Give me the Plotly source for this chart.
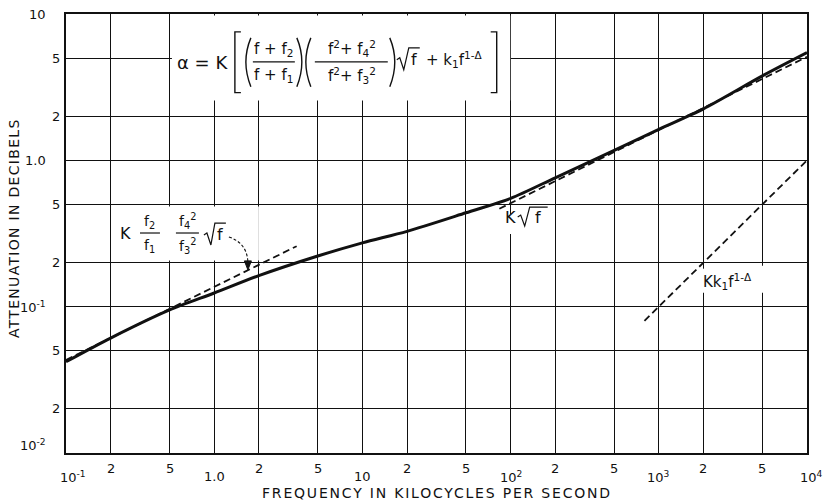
import math
import plotly.graph_objects as go

# ---------------- data ----------------
freq_curve = [0.1, 0.2, 0.5, 1, 2, 5, 10, 20, 50, 100, 200, 500, 1000, 2000, 5000, 10000]
atten_curve = [0.042, 0.061, 0.095, 0.124, 0.163, 0.222, 0.273, 0.327, 0.438, 0.55,
               0.76, 1.17, 1.63, 2.25, 3.78, 5.45]

freq_low = [0.1, 3.6]          # K f2/f1 f4^2/f3^2 sqrt(f)
atten_low = [0.0432, 0.259]
freq_high = [84, 10000]        # K sqrt(f)
atten_high = [0.467, 5.1]
freq_loss = [800, 10000]       # K k1 f^(1-Δ)
atten_loss = [0.08, 1.0]

x_grid = [0.1, 0.2, 0.5, 1, 2, 5, 10, 20, 50, 100, 200, 500, 1000, 2000, 5000, 10000]
y_grid = [0.01, 0.02, 0.05, 0.1, 0.2, 0.5, 1, 2, 5, 10]

x_minor_vals = [0.2, 0.5, 2, 5, 20, 50, 200, 500, 2000, 5000]
x_minor_text = ["2", "5", "2", "5", "2", "5", "2", "5", "2", "5"]
x_major_vals = [0.1, 1, 10, 100, 1000, 10000]
x_major_text = ["10<sup>-1</sup>", "1.0", "10", "10<sup>2</sup>", "10<sup>3</sup>", "10<sup>4</sup>"]
y_minor_vals = [0.02, 0.05, 0.2, 0.5, 2, 5]
y_minor_text = ["2", "5", "2", "5", "2", "5"]
y_major_vals = [0.01, 0.1, 1, 10]
y_major_text = ["10<sup>-2</sup>", "10<sup>-1</sup>", "1.0", "10"]

FONT = "DejaVu Sans"
INK = "#111"

# plot-area geometry (pixels)
L, R, T, B = 66, 807.5, 12, 453
W, H = 827, 504


def px(x, y):
    return (x - L) / (R - L), (B - y) / (B - T)


def path(points, close=False):
    s = ""
    for i, p in enumerate(points):
        a, b = px(*p)
        s += ("M" if i == 0 else "L") + f"{a:.5f},{b:.5f} "
    return s + ("Z" if close else "")


def qcurve(p0, c, p1):
    a0, b0 = px(*p0)
    ac, bc = px(*c)
    a1, b1 = px(*p1)
    return f"M{a0:.5f},{b0:.5f} Q{ac:.5f},{bc:.5f} {a1:.5f},{b1:.5f}"


fig = go.Figure()

fig.add_trace(go.Scatter(x=freq_curve, y=atten_curve, mode="lines",
                         line=dict(color=INK, width=3, shape="spline", smoothing=0.8),
                         hoverinfo="skip", showlegend=False))
for fx, fy in [(freq_low, atten_low), (freq_high, atten_high), (freq_loss, atten_loss)]:
    fig.add_trace(go.Scatter(x=fx, y=fy, mode="lines",
                             line=dict(color=INK, width=1.8, dash="7px,4px"),
                             hoverinfo="skip", showlegend=False))

shapes = []
# white boxes interrupting the grid (drawn first, curves avoided)
for poly in [[(172, 13.5), (510.5, 13.5), (510.5, 99), (172, 99)],
             [(113, 205.5), (259, 205.5), (259, 259.5), (113, 259.5)],
             [(500, 213), (553, 213), (553, 233), (500, 233)],
             [(707, 265), (800, 265), (800, 292), (679, 292)]]:
    shapes.append(dict(type="path", xref="paper", yref="paper", path=path(poly, close=True),
                       fillcolor="white", line=dict(width=0), layer="above"))

lw = dict(color=INK, width=1.4)
# brackets
shapes.append(dict(type="path", xref="paper", yref="paper", line=lw,
                   path=path([(241, 30), (235, 30), (235, 91), (241, 91)])))
shapes.append(dict(type="path", xref="paper", yref="paper", line=lw,
                   path=path([(491, 30), (497, 30), (497, 91), (491, 91)])))
# parentheses
for p0, c, p1 in [((251, 36), (241, 60), (251, 85)), ((297, 36), (307, 60), (297, 85)),
                  ((311, 36), (301, 60), (311, 85)), ((390, 36), (400, 60), (390, 85))]:
    shapes.append(dict(type="path", xref="paper", yref="paper", line=lw, path=qcurve(p0, c, p1)))
# fraction bars
for x0, x1, y in [(253, 295, 60), (315, 388, 60), (140, 160, 232), (176, 199, 232)]:
    shapes.append(dict(type="path", xref="paper", yref="paper", line=dict(color=INK, width=1.2),
                       path=path([(x0, y), (x1, y)])))
# radical signs
for pts in [[(397, 58), (400, 56), (404, 68), (409, 46), (420, 46)],
            [(204, 234), (207, 232), (211, 244), (215, 222), (226, 222)],
            [(518, 216), (521, 214), (525, 225), (530, 206), (548, 206)]]:
    shapes.append(dict(type="path", xref="paper", yref="paper", line=dict(color=INK, width=1.2),
                       path=path(pts)))
# arrow to the low-frequency asymptote
shapes.append(dict(type="path", xref="paper", yref="paper",
                   line=dict(color=INK, width=1.1, dash="3px,2px"),
                   path=qcurve((229, 236), (247, 242), (248, 261))))
shapes.append(dict(type="path", xref="paper", yref="paper", line=dict(color=INK, width=1),
                   fillcolor=INK, path=path([(244.5, 260), (251.5, 260), (248, 269)], close=True)))

ann = []


def text(t, x, y, size=15, xanchor="center", angle=0):
    a, b = px(x, y)
    ann.append(dict(text=t, x=a, y=b, xref="paper", yref="paper", showarrow=False,
                    xanchor=xanchor, yanchor="middle", textangle=angle,
                    font=dict(family=FONT, size=size, color=INK)))


# formula
text("α = K", 203, 61, 18)
text("f + f<sub>2</sub>", 274, 48, 15)
text("f + f<sub>1</sub>", 274, 74, 15)
text("f<sup>2</sup>+ f<sub>4</sub><sup>2</sup>", 352, 47, 15)
text("f<sup>2</sup>+ f<sub>3</sub><sup>2</sup>", 352, 74, 15)
text("f", 414, 58, 16)
text("+ k<sub>1</sub>f<sup>1-Δ</sup>", 454, 58, 15)
# low-frequency label
text("K", 126, 233, 16)
text("f<sub>2</sub>", 150, 221, 14)
text("f<sub>1</sub>", 150, 245, 14)
text("f<sub>4</sub><sup>2</sup>", 188, 220, 14)
text("f<sub>3</sub><sup>2</sup>", 188, 245, 14)
text("f", 220, 234, 16)
# other labels
text("K", 511, 216, 16)
text("f", 538, 216, 16)
text("Kk<sub>1</sub>f<sup>1-Δ</sup>", 728, 281, 15)

# tick labels
tick_font = dict(family=FONT, size=13, color=INK)
for v, t in zip(x_minor_vals, x_minor_text):
    ann.append(dict(text=t, x=math.log10(v), y=0, xref="x", yref="paper", xanchor="center",
                    yanchor="top", yshift=-6, showarrow=False, font=tick_font))
for v, t in zip(x_major_vals, x_major_text):
    shift = 7 if v == 0.1 else (4 if v == 10000 else 0)
    ann.append(dict(text=t, x=math.log10(v), y=0, xref="x", yref="paper", xanchor="center",
                    yanchor="top", yshift=-14, xshift=shift, showarrow=False, font=tick_font))
for v, t in zip(y_minor_vals, y_minor_text):
    ann.append(dict(text=t, x=0, y=math.log10(v), xref="paper", yref="y", xanchor="right",
                    yanchor="middle", xshift=-4, showarrow=False, font=tick_font))
for v, t in zip(y_major_vals, y_major_text):
    ann.append(dict(text=t, x=0, y=math.log10(v), xref="paper", yref="y", xanchor="right",
                    yanchor="middle", xshift=-18, yshift=(8 if v == 0.01 else 0),
                    showarrow=False, font=tick_font))

# axis titles
text("<span style='letter-spacing:1.8px'>FREQUENCY IN KILOCYCLES PER SECOND</span>", 437, 493, 14)
text("<span style='letter-spacing:1.3px'>ATTENUATION IN DECIBELS</span>", 14, 227, 14, angle=-90)

axis_common = dict(showgrid=True, gridcolor=INK, gridwidth=1.2, showticklabels=False,
                   ticks="", showline=True, linecolor=INK, linewidth=1.8, mirror=True,
                   zeroline=False, fixedrange=True)
fig.update_layout(
    width=W, height=H,
    margin=dict(l=L, r=W - R, t=T, b=H - B),
    paper_bgcolor="white", plot_bgcolor="white",
    xaxis=dict(type="log", range=[-1, 4], tickvals=x_grid, **axis_common),
    yaxis=dict(type="log", range=[-2, 1], tickvals=y_grid, **axis_common),
    shapes=shapes, annotations=ann, showlegend=False,
)

fig.write_html("out.html", config={"displayModeBar": False},
               post_script="document.body.style.margin='0';document.body.style.padding='0';")
